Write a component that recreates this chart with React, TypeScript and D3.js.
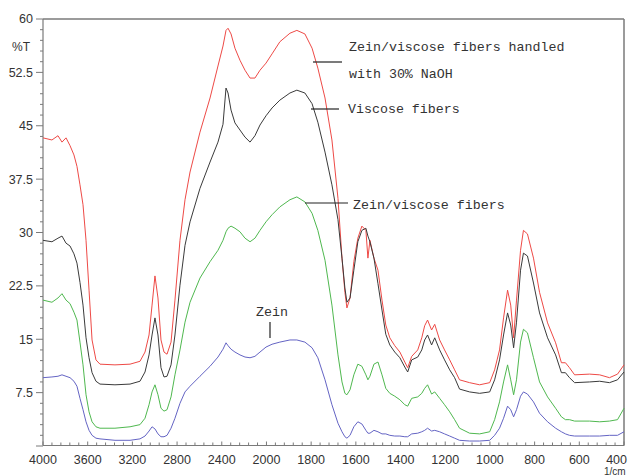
import React from "react";
import * as d3 from "d3";

const wavenumbers = [
  4000, 3920, 3866, 3830, 3794, 3758, 3723, 3696, 3669, 3642,
  3615, 3588, 3561, 3526, 3490, 3356, 3221, 3132, 3087, 3051,
  3024, 2998, 2971, 2944, 2917, 2890, 2854, 2819, 2774, 2729,
  2684, 2595, 2505, 2434, 2389, 2362, 2344, 2317, 2282, 2237,
  2192, 2147, 2103, 2058, 2004, 1975, 1940, 1895, 1864, 1828,
  1796, 1770, 1738, 1707, 1680, 1662, 1649, 1640, 1626, 1609,
  1591, 1573, 1555, 1546, 1537, 1519, 1501, 1483, 1466, 1448,
  1426, 1403, 1381, 1368, 1350, 1323, 1305, 1292, 1279, 1261,
  1247, 1225, 1203, 1180, 1158, 1136, 1091, 1046, 1001, 979,
  957, 939, 921, 907, 894, 881, 863, 850, 832, 805,
  778, 742, 706, 680, 662, 644, 621, 554, 509, 465,
  429, 400,
];

const naohTreated = [
  43.3, 43.0, 43.6, 42.7, 43.3, 42.2, 40.9, 39.3, 36.7, 33.9,
  28.9, 21.9, 14.9, 12.1, 11.5, 11.4, 11.5, 11.9, 13.2, 15.6,
  19.8, 23.9, 20.8, 14.9, 13.2, 12.9, 14.6, 20.5, 28.9, 34.6,
  38.5, 44.1, 48.9, 53.4, 56.2, 58.4, 58.7, 57.9, 55.9, 54.2,
  52.8, 51.7, 51.7, 52.8, 53.8, 55.1, 56.8, 58.0, 58.4, 57.9,
  55.9, 53.1, 48.9, 43.0, 34.8, 26.4, 21.6, 19.4, 20.8, 25.9,
  29.2, 30.9, 30.3, 26.4, 28.9, 26.4, 24.7, 20.5, 17.0, 15.2,
  14.1, 13.2, 11.8, 11.0, 12.6, 13.5, 15.2, 16.9, 17.7, 16.3,
  17.1, 14.9, 13.5, 12.1, 10.7, 9.3, 8.9, 8.6, 8.9, 10.7,
  13.5, 18.0, 21.9, 19.8, 15.2, 20.5, 27.5, 30.3, 29.8, 26.4,
  21.6, 17.3, 14.5, 11.7, 11.7, 11.0, 10.0, 10.1, 10.0, 9.6,
  10.1, 11.4,
];

const viscose = [
  28.9, 28.7, 29.2, 29.5, 28.5, 28.1, 27.0, 25.7, 23.0, 19.8,
  15.2, 12.4, 10.3, 9.1, 8.7, 8.6, 8.7, 9.1, 10.4, 12.8,
  15.6, 18.0, 15.6, 11.0, 9.7, 9.8, 11.4, 15.6, 22.6, 28.2,
  31.5, 36.2, 39.9, 42.7, 45.2, 50.3, 49.6, 47.2, 45.4, 44.4,
  43.4, 42.7, 43.6, 45.1, 46.4, 47.5, 48.6, 49.6, 50.0, 49.6,
  48.1, 45.5, 41.3, 36.7, 31.8, 26.4, 22.2, 20.2, 20.8, 24.7,
  28.7, 30.3, 30.6, 29.5, 28.7, 26.4, 22.8, 19.1, 15.7, 14.2,
  13.2, 12.4, 11.1, 10.4, 12.1, 12.5, 13.5, 14.9, 15.6, 14.2,
  15.2, 13.5, 12.1, 10.7, 9.6, 8.0, 7.6, 7.4, 7.6, 9.3,
  12.1, 15.6, 18.7, 17.0, 13.8, 17.4, 24.7, 27.1, 26.7, 22.9,
  18.7, 15.2, 12.8, 10.3, 10.3, 9.6, 8.9, 9.0, 9.1, 8.9,
  9.3, 10.4,
];

const zeinViscose = [
  20.5, 20.2, 20.8, 21.4, 20.5, 20.0, 18.8, 17.7, 14.6, 11.4,
  7.2, 4.8, 3.4, 2.7, 2.5, 2.5, 2.7, 3.0, 3.9, 5.8,
  7.6, 8.6, 7.2, 5.3, 4.9, 5.1, 6.9, 10.0, 13.5, 17.4,
  20.2, 23.6, 25.9, 27.5, 28.9, 30.1, 30.6, 30.9, 30.6, 30.1,
  29.2, 28.7, 29.2, 30.3, 31.5, 32.5, 33.6, 34.6, 35.0, 34.3,
  32.7, 30.3, 26.1, 19.8, 12.8, 9.0, 7.4, 7.2, 7.9, 10.0,
  11.5, 11.2, 10.0, 9.3, 9.8, 11.5, 11.8, 10.0, 8.1, 7.4,
  7.0, 6.5, 5.8, 5.6, 6.7, 6.9, 7.4, 8.1, 8.6, 7.3,
  7.6, 6.7, 5.8, 4.8, 3.7, 2.5, 1.8, 1.7, 2.0, 3.7,
  6.2, 9.0, 11.4, 9.3, 7.2, 9.3, 14.6, 16.4, 15.9, 12.4,
  9.0, 6.9, 5.3, 4.1, 3.7, 3.7, 3.5, 3.5, 3.4, 3.5,
  3.7, 5.3,
];

const zein = [
  9.6, 9.7, 9.8, 10.0, 9.8, 9.6, 9.1, 8.4, 6.7, 5.1,
  3.4, 2.2, 1.5, 1.1, 1.0, 0.8, 0.8, 1.0, 1.4, 2.1,
  2.7, 2.4, 1.7, 1.3, 1.3, 1.5, 2.5, 3.9, 6.0, 7.6,
  8.4, 9.8, 11.2, 12.5, 13.6, 14.5, 14.1, 13.6, 13.2, 12.8,
  12.5, 12.4, 12.6, 13.2, 13.9, 14.3, 14.6, 14.9, 14.9, 14.6,
  13.8, 12.4, 9.3, 5.8, 3.2, 2.0, 1.3, 1.1, 1.5, 2.7,
  3.4, 3.1, 2.2, 1.8, 1.8, 2.2, 2.0, 1.7, 1.7, 1.5,
  1.4, 1.4, 1.3, 1.3, 1.7, 1.8, 2.0, 2.2, 2.5, 2.1,
  2.2, 2.0, 1.7, 1.4, 1.1, 0.8, 0.7, 0.7, 0.8, 1.5,
  2.5, 3.9, 5.6, 5.1, 4.1, 5.1, 7.0, 7.6, 7.3, 6.2,
  4.6, 3.4, 2.5, 2.0, 1.7, 1.5, 1.4, 1.4, 1.4, 1.5,
  1.5, 2.0,
];

const xTickLabels = [4000, 3600, 3200, 2800, 2400, 2000, 1800, 1600, 1400, 1200, 1000, 800, 600, 400];
const yTickLabels = [0, 7.5, 15, 22.5, 30, 37.5, 45, 52.5, 60];

const seriesList = [
  { name: "Zein/viscose fibers handled with 30% NaOH", values: naohTreated, color: "#ee4a46" },
  { name: "Viscose fibers", values: viscose, color: "#3a3a3a" },
  { name: "Zein/viscose fibers", values: zeinViscose, color: "#4fb84f" },
  { name: "Zein", values: zein, color: "#6464c4" },
];

export default function App() {
  const W = 628;
  const H = 476;
  const left = 43;
  const right = 624;
  const top = 19;
  const bottom = 445.5;

  const x = d3.scaleLinear().domain([4000, 2000, 400]).range([left, left + (right - left) * 5 / 13, right]);
  const y = d3.scaleLinear().domain([0, 60]).range([446, top]);

  const line = d3
    .line<number>()
    .x((_, i) => x(wavenumbers[i]))
    .y((d) => y(d));

  const xMinor: number[] = [];
  for (let i = 0; i < xTickLabels.length - 1; i++) {
    const a = xTickLabels[i];
    const b = xTickLabels[i + 1];
    for (let k = 1; k < 5; k++) xMinor.push(a + ((b - a) * k) / 5);
  }
  const yMinor: number[] = [];
  for (let v = 1.5; v < 60; v += 1.5) {
    if (Math.abs(v / 7.5 - Math.round(v / 7.5)) > 1e-6) yMinor.push(v);
  }

  const axisColor = "#7a7a7a";
  const labelFont = "'Liberation Sans', Arial, sans-serif";
  const annoFont = "'Liberation Mono', 'Courier New', monospace";
  const lastTick = xTickLabels[xTickLabels.length - 1];

  return (
    <svg width={W} height={H} style={{ position: "absolute", left: 0, top: 0, background: "#fff" }}>
      <rect x={0} y={0} width={W} height={H} fill="#fff" />
      {/* frame */}
      <line x1={left} x2={right} y1={top} y2={top} stroke={axisColor} strokeWidth={1.5} />
      <line x1={right} x2={right} y1={top} y2={bottom} stroke={axisColor} strokeWidth={1.5} />
      <line x1={left} x2={left} y1={top} y2={bottom} stroke={axisColor} strokeWidth={1.2} />
      <line x1={left} x2={right} y1={bottom} y2={bottom} stroke={axisColor} strokeWidth={1.2} />

      {/* y ticks */}
      {yTickLabels.map((v) => (
        <g key={"yt" + v}>
          <line x1={left - 7} x2={left} y1={y(v)} y2={y(v)} stroke={axisColor} strokeWidth={1} />
          {v > 0 && (
            <text x={33} y={y(v)} dy="0.35em" textAnchor="end" fontFamily={labelFont} fontSize={12.5} fill="#333">
              {v}
            </text>
          )}
        </g>
      ))}
      {yMinor.map((v) => (
        <line key={"ym" + v} x1={left - 3} x2={left} y1={y(v)} y2={y(v)} stroke={axisColor} strokeWidth={1} />
      ))}
      <text x={12} y={47} dy="0.35em" fontFamily={labelFont} fontSize={12} fill="#333">
        %T
      </text>

      {/* x ticks */}
      {xTickLabels.map((v) => (
        <g key={"xt" + v}>
          <line x1={x(v)} x2={x(v)} y1={bottom} y2={bottom - 4} stroke={axisColor} strokeWidth={1} />
          <text
            x={v === lastTick ? 627 : x(v)}
            y={460}
            dy="0.35em"
            textAnchor={v === lastTick ? "end" : "middle"}
            fontFamily={labelFont}
            fontSize={12.5}
            fill="#333"
          >
            {v}
          </text>
        </g>
      ))}
      {xMinor.map((v) => (
        <line key={"xm" + v} x1={x(v)} x2={x(v)} y1={bottom} y2={bottom - 3} stroke={axisColor} strokeWidth={1} />
      ))}
      <text x={604} y={471.5} dy="0.35em" fontFamily={labelFont} fontSize={10} fill="#333">
        1/cm
      </text>

      {/* spectra */}
      {seriesList.map((s) => (
        <path key={s.name} d={line(s.values) || ""} fill="none" stroke={s.color} strokeWidth={1} strokeLinejoin="round" />
      ))}

      {/* annotations */}
      <g fontFamily={annoFont} fontSize={13.3} fill="#333">
        <line x1={313} x2={342} y1={62} y2={62} stroke="#222" strokeWidth={1.2} />
        <text x={349} y={46} dy="0.35em">Zein/viscose fibers handled</text>
        <text x={349} y={73} dy="0.35em">with 30% NaOH</text>
        <line x1={311} x2={339} y1={109} y2={109} stroke="#222" strokeWidth={1.2} />
        <text x={348} y={108} dy="0.35em">Viscose fibers</text>
        <line x1={305} x2={348} y1={203} y2={203} stroke="#222" strokeWidth={1.2} />
        <text x={353} y={204} dy="0.35em">Zein/viscose fibers</text>
        <line x1={270} x2={270} y1={322} y2={338} stroke="#222" strokeWidth={1.2} />
        <text x={256} y={311} dy="0.35em">Zein</text>
      </g>
    </svg>
  );
}
